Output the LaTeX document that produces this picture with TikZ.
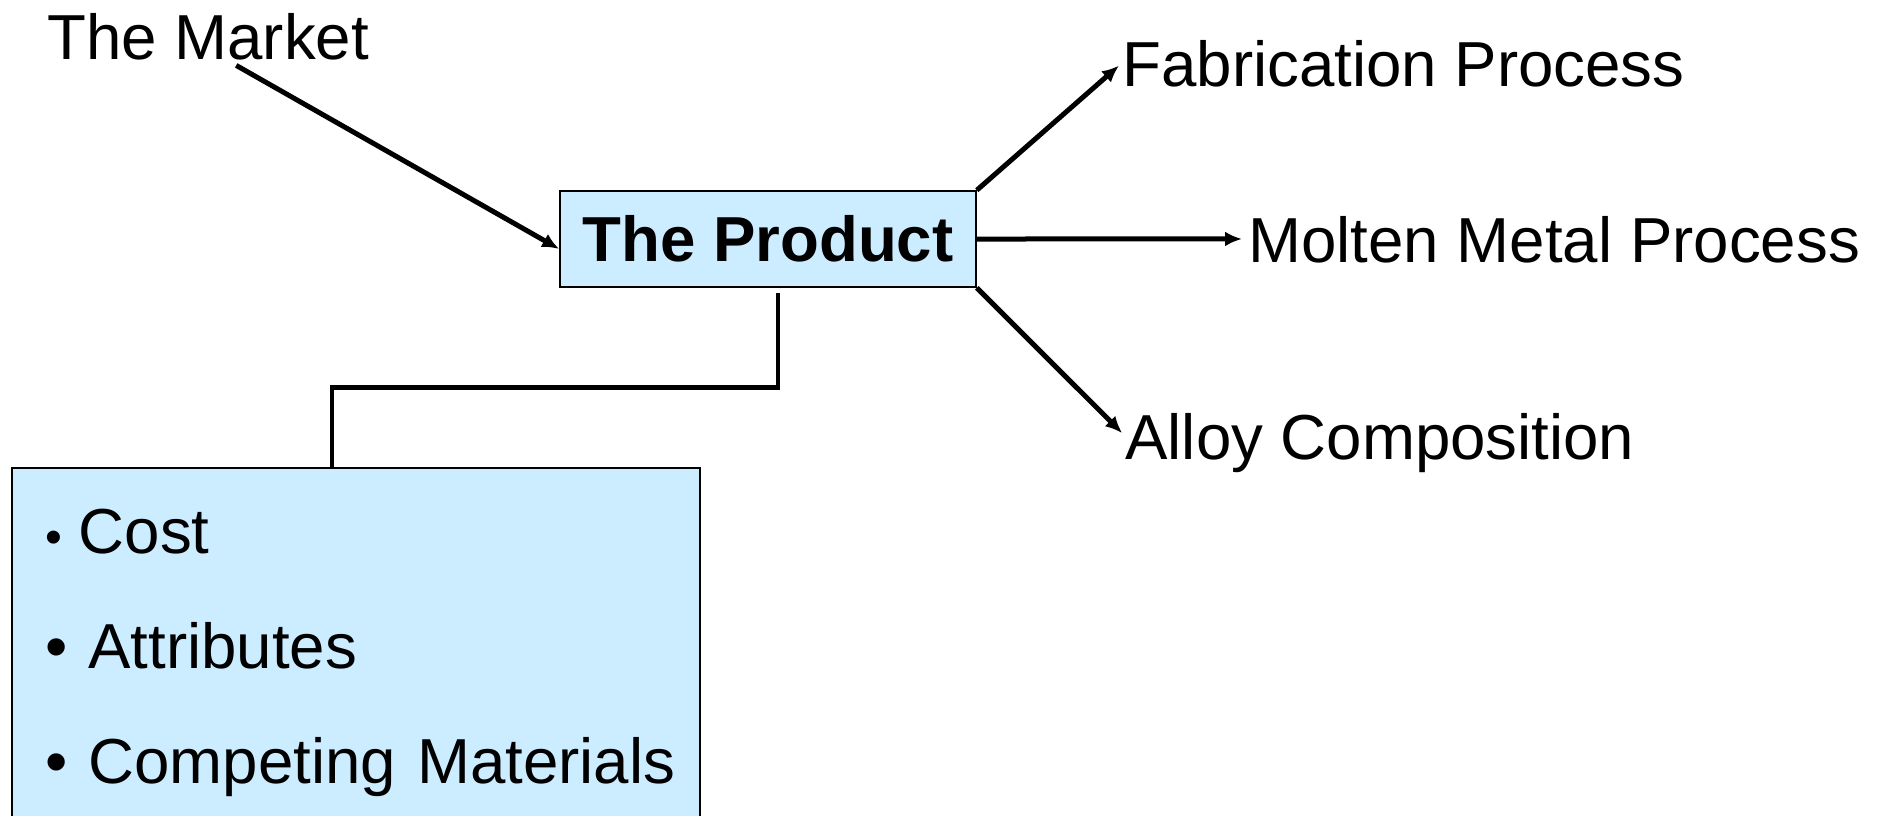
\documentclass[tikz,border=0pt]{standalone}
\usepackage{fontspec}
\setmainfont{Liberation Sans}
\usetikzlibrary{arrows.meta}
\definecolor{boxblue}{HTML}{CCECFF}

\begin{document}
\begin{tikzpicture}[x = 0.5pt, y = -0.5pt,
  word/.style = {inner sep = 0pt, text depth = 0pt, anchor = base west,
    font = \fontsize{31.8}{38}\selectfont},
  box/.style = {rectangle, draw = black, fill = boxblue},
  arrow/.style = {-{Latex[length = 8.5pt, width = 7.5pt]}, line width = 2.5pt}]
  \useasboundingbox (0,0) rectangle (1883,815);

  \node [word] (market) at (47,59) {The Market};
  \node [box, line width = 0.8pt, minimum width = 208pt, minimum height = 48pt,
  inner sep = 0pt, font = \fontsize{31.8}{38}\selectfont\bfseries] (product)
  at (768,239) {The Product};

  \node [word] (fab) at (1122,86) {Fabrication Process};
  \node [word] (molten) at (1248,262) {Molten Metal Process};
  \node [word] (alloy) at (1125,459) {Alloy Composition};

  \node [box, line width = 1pt, anchor = north west, align = left,
  text width = 311pt, inner xsep = 16.5pt, inner ysep = 20.7pt,
  font = \fontsize{31.8}{57.5}\selectfont] (needs) at (11,467)
  {{\fontsize{24}{24}\selectfont •}\kern8.5pt Cost\\• Attributes\\
  \mbox{• Competing Materials}};

  \draw [arrow] ([xshift = 14pt, yshift = -3pt]market.south) --
  ([yshift = -5pt]product.west);
  \draw [arrow, shorten >= 2pt] (product.north east) -- (fab.west);
  \draw [arrow, shorten >= 3pt] (product.east) -- (molten.west);
  \draw [arrow, shorten >= 2pt] (product.south east) -- (alloy.west);

  \draw [line width = 2.4pt] ([xshift = 5pt, yshift = -2.5pt]product.south)
  -- ++(0,95) -| ([xshift = -12pt]needs.north);
\end{tikzpicture}
\end{document}
